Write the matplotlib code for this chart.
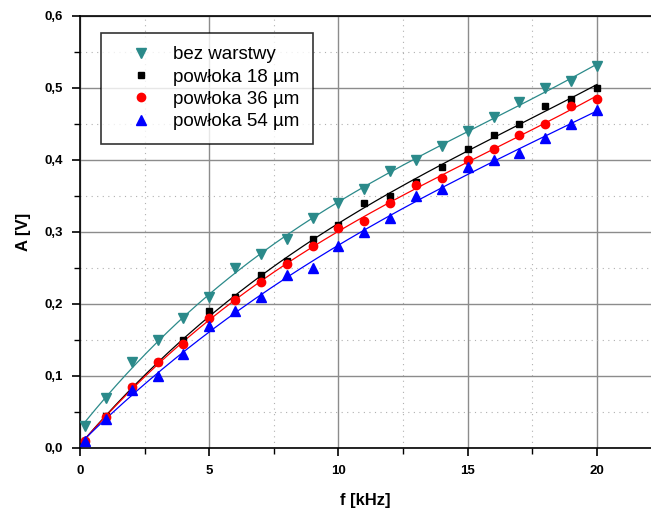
import matplotlib
matplotlib.use("Agg")
import matplotlib.pyplot as plt
import numpy as np
from matplotlib.ticker import MultipleLocator, FuncFormatter

# measured amplitude vs. frequency for uncoated sample and three coatings
f_khz = [0.2, 1, 2, 3, 4, 5, 6, 7, 8, 9, 10, 11, 12, 13, 14, 15, 16, 17, 18, 19, 20]
a_bez = [0.03, 0.07, 0.12, 0.15, 0.18, 0.21, 0.25, 0.27, 0.29, 0.32, 0.34,
         0.36, 0.385, 0.40, 0.42, 0.44, 0.46, 0.48, 0.50, 0.51, 0.53]
a_18 = [0.01, 0.045, 0.085, 0.12, 0.15, 0.19, 0.21, 0.24, 0.26, 0.29, 0.31,
        0.34, 0.35, 0.37, 0.39, 0.415, 0.435, 0.45, 0.475, 0.485, 0.50]
a_36 = [0.01, 0.043, 0.085, 0.12, 0.145, 0.18, 0.205, 0.23, 0.255, 0.28, 0.305,
        0.315, 0.34, 0.365, 0.375, 0.40, 0.415, 0.435, 0.45, 0.475, 0.485]
a_54 = [0.01, 0.04, 0.08, 0.10, 0.13, 0.17, 0.19, 0.21, 0.24, 0.25, 0.28,
        0.30, 0.32, 0.35, 0.36, 0.39, 0.40, 0.41, 0.43, 0.45, 0.47]

labels = ["bez warstwy", "powłoka 18 µm", "powłoka 36 µm", "powłoka 54 µm"]
series = [a_bez, a_18, a_36, a_54]
colors = ["#2b8a8a", "black", "red", "blue"]
markers = ["v", "s", "o", "^"]
msizes = [7.5, 5, 6, 7.5]

plt.rcParams["font.family"] = ["Liberation Sans", "DejaVu Sans"]

fig = plt.figure(figsize=(6.51, 5.13), dpi=100)
ax = fig.add_axes([80 / 651, 65 / 513, 571 / 651, 432 / 513])

x = np.array(f_khz)
xs = np.linspace(x.min(), x.max(), 200)
for y, c, m, ms, lab in zip(series, colors, markers, msizes, labels):
    # smooth cubic fit through the measured points
    coef = np.polyfit(x, np.array(y), 3)
    ax.plot(xs, np.polyval(coef, xs), color=c, lw=0.9, zorder=3)
    ax.plot(x, y, linestyle="none", marker=m, ms=ms, color=c, mec=c,
            label=lab, zorder=4)

ax.set_xlim(0, 22.09)
ax.set_ylim(0, 0.6)
ax.xaxis.set_major_locator(MultipleLocator(5))
ax.xaxis.set_minor_locator(MultipleLocator(2.5))
ax.yaxis.set_major_locator(MultipleLocator(0.1))
ax.yaxis.set_minor_locator(MultipleLocator(0.05))
ax.yaxis.set_major_formatter(FuncFormatter(lambda v, _: f"{v:.1f}".replace(".", ",")))

ax.grid(True, which="major", color="#8c8c8c", lw=1.0, zorder=1)
ax.grid(True, which="minor", color="#b0b0b0", lw=0.8, ls=(0, (1, 4)), zorder=1)

ax.spines["right"].set_visible(False)
for s in ("left", "bottom", "top"):
    ax.spines[s].set_linewidth(1.2)
ax.tick_params(which="major", direction="out", length=6, width=1.2,
               labelsize=9.5, pad=6)
ax.tick_params(which="minor", direction="out", length=4, width=1.0)
for t in ax.get_xticklabels() + ax.get_yticklabels():
    t.set_fontweight("bold")

ax.set_xlabel("f [kHz]", fontsize=12, fontweight="bold", labelpad=12)
ax.set_ylabel("A [V]", fontsize=12, fontweight="bold", labelpad=10)

leg = ax.legend(loc="upper left", bbox_to_anchor=(21 / 571, 1 - 17 / 432),
                fontsize=13.5, frameon=True, fancybox=False, borderpad=0.7,
                handlelength=2.9, handletextpad=0.25, labelspacing=0.28,
                borderaxespad=0)
leg.get_frame().set_edgecolor("black")
leg.get_frame().set_linewidth(1.2)

fig.savefig("out.png", dpi=100)
